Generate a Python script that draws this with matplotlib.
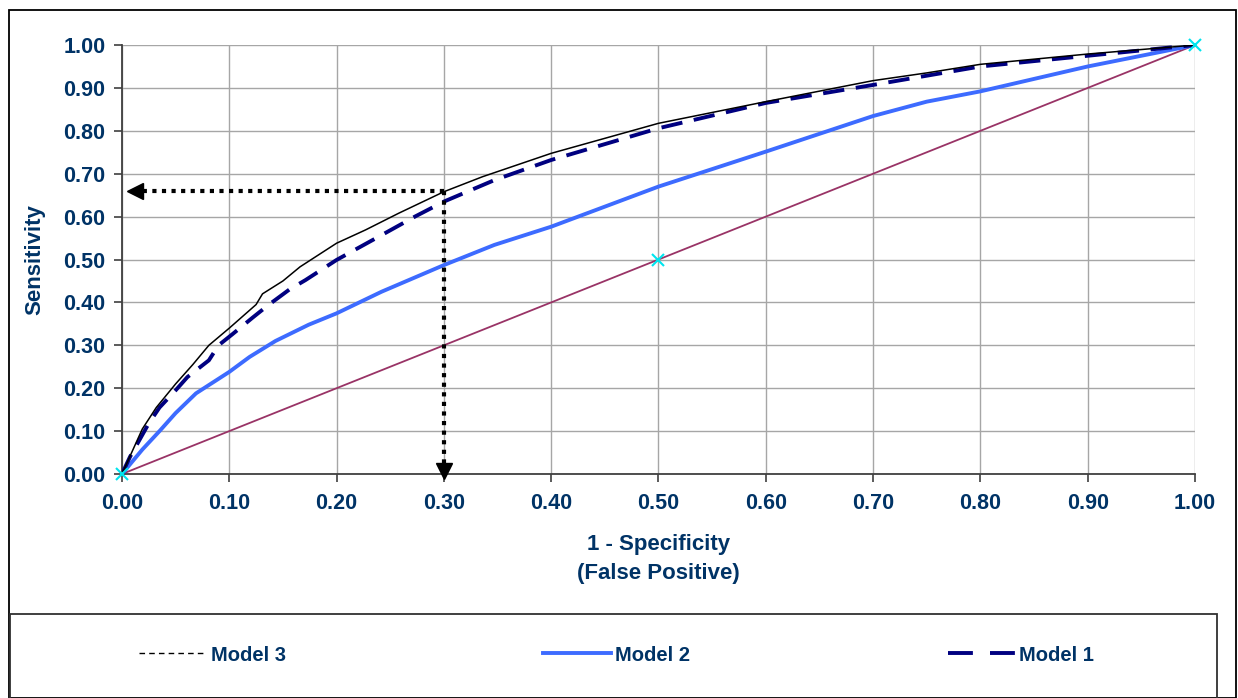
import matplotlib
matplotlib.use("Agg")
import matplotlib.pyplot as plt
from matplotlib.lines import Line2D
from matplotlib.patches import Rectangle

# ROC curve values
fpr_m3 = [0, 0.019, 0.032, 0.05, 0.066, 0.081, 0.1, 0.125, 0.131, 0.15, 0.166, 0.2,
          0.227, 0.258, 0.3, 0.336, 0.4, 0.5, 0.6, 0.7, 0.75, 0.8, 0.9, 1.0]
tpr_m3 = [0, 0.105, 0.155, 0.21, 0.255, 0.3, 0.34, 0.395, 0.42, 0.45, 0.483, 0.538,
          0.569, 0.608, 0.658, 0.693, 0.7475, 0.8175, 0.868, 0.917, 0.935, 0.955, 0.979, 1.0]

fpr_m1 = [0, 0.0075, 0.025, 0.035, 0.05, 0.061, 0.081, 0.09, 0.103, 0.122, 0.136, 0.156,
          0.171, 0.2, 0.242, 0.273, 0.3, 0.347, 0.4, 0.5, 0.6, 0.7, 0.8, 0.9, 1.0]
tpr_m1 = [0, 0.04, 0.118, 0.155, 0.195, 0.226, 0.265, 0.3, 0.326, 0.365, 0.393, 0.43,
          0.452, 0.499, 0.557, 0.6, 0.635, 0.685, 0.732, 0.806, 0.865, 0.907, 0.95, 0.975, 1.0]

fpr_m2 = [0, 0.019, 0.035, 0.05, 0.069, 0.1, 0.119, 0.143, 0.174, 0.2, 0.242, 0.3, 0.347,
          0.4, 0.5, 0.6, 0.7, 0.75, 0.8, 0.9, 1.0]
tpr_m2 = [0, 0.057, 0.1, 0.142, 0.188, 0.238, 0.273, 0.31, 0.348, 0.3745, 0.425, 0.487,
          0.534, 0.5765, 0.67, 0.7515, 0.8345, 0.868, 0.892, 0.95, 1.0]

diag_x = [0, 0.5, 1.0]
diag_y = [0, 0.5, 1.0]

# cut-off marked with arrows
cutoff_fpr = 0.30
cutoff_tpr = 0.66

ticks = [0, 0.1, 0.2, 0.3, 0.4, 0.5, 0.6, 0.7, 0.8, 0.9, 1.0]
tick_labels = ["%.2f" % t for t in ticks]

txt_color = "#003366"
plt.rcParams["font.family"] = ["Liberation Sans", "DejaVu Sans"]
plt.rcParams["font.weight"] = "bold"

fig = plt.figure(figsize=(12.38, 6.98), dpi=100)
ax = fig.add_axes([0.0985, 0.3209, 0.8668, 0.6146])

ax.plot(diag_x, diag_y, color="#993366", lw=1.3, zorder=2)
ax.plot(diag_x, diag_y, ls="none", marker="x", ms=9, mew=1.5, color="#00e5ee", zorder=6, clip_on=False)
ax.plot(fpr_m2, tpr_m2, color="#3d6bff", lw=2.8, zorder=3)
ax.plot(fpr_m1, tpr_m1, color="#000080", lw=2.8, dashes=(5.5, 3), zorder=4)
ax.plot(fpr_m3, tpr_m3, color="black", lw=1.1, zorder=5)

# dotted guides with arrow heads
ax.plot([cutoff_fpr, 0.012], [cutoff_tpr, cutoff_tpr], ls=(0, (1, 1.3)), color="black", lw=3, zorder=6)
ax.plot([cutoff_fpr, cutoff_fpr], [cutoff_tpr, 0.01], ls=(0, (1, 1.3)), color="black", lw=3, zorder=6)
ax.plot([0.012], [cutoff_tpr], marker="<", ms=11, color="black", zorder=7, clip_on=False)
ax.plot([cutoff_fpr], [0.008], marker="v", ms=11, color="black", zorder=7, clip_on=False)

ax.set_xlim(0, 1)
ax.set_ylim(0, 1)
ax.set_xticks(ticks)
ax.set_yticks(ticks)
ax.set_xticklabels(tick_labels)
ax.set_yticklabels(tick_labels)
ax.tick_params(axis="both", direction="out", length=6, width=1.2, color="#404040",
               labelsize=15.5, labelcolor=txt_color)
ax.tick_params(axis="x", pad=8)
ax.tick_params(axis="y", pad=6)
ax.grid(True, color="#a6a6a6", lw=1)
ax.set_axisbelow(True)
for s in ["top", "right"]:
    ax.spines[s].set_visible(False)
for s in ["left", "bottom"]:
    ax.spines[s].set_color("#404040")
    ax.spines[s].set_linewidth(1.3)

ax.set_ylabel("Sensitivity", fontsize=16, fontweight="bold", color=txt_color)
ax.yaxis.set_label_coords(-0.0718, 0.5)
ax.set_xlabel("1 - Specificity\n(False Positive)", fontsize=16, fontweight="bold",
              color=txt_color, linespacing=1.5)
ax.xaxis.set_label_coords(0.5, -0.14)

# legend in its own box below the chart
handles = [
    Line2D([], [], color="black", lw=1, dashes=(4, 3)),
    Line2D([], [], color="#3d6bff", lw=2.8),
    Line2D([], [], color="#000080", lw=2.8, dashes=(6.4, 4.4)),
]
leg = fig.legend(handles, ["Model 3", "Model 2", "Model 1"], ncol=3, loc="center",
                 bbox_to_anchor=(0.498, 0.0616), frameon=False, fontsize=14.5,
                 handlelength=3.35, handletextpad=0.2, columnspacing=12.8)
for t in leg.get_texts():
    t.set_color(txt_color)
    t.set_fontweight("bold")

W, H = 1238, 698
fig.patches.append(Rectangle((9 / W, 0), (1236 - 9) / W, (H - 10) / H, transform=fig.transFigure,
                             fill=False, ec="black", lw=1.3))
fig.patches.append(Rectangle((10 / W, -0.01), (1217 - 10) / W, (H - 614) / H + 0.01,
                             transform=fig.transFigure, fill=False, ec="#303030", lw=1.3))

fig.savefig("out.png", dpi=100)
